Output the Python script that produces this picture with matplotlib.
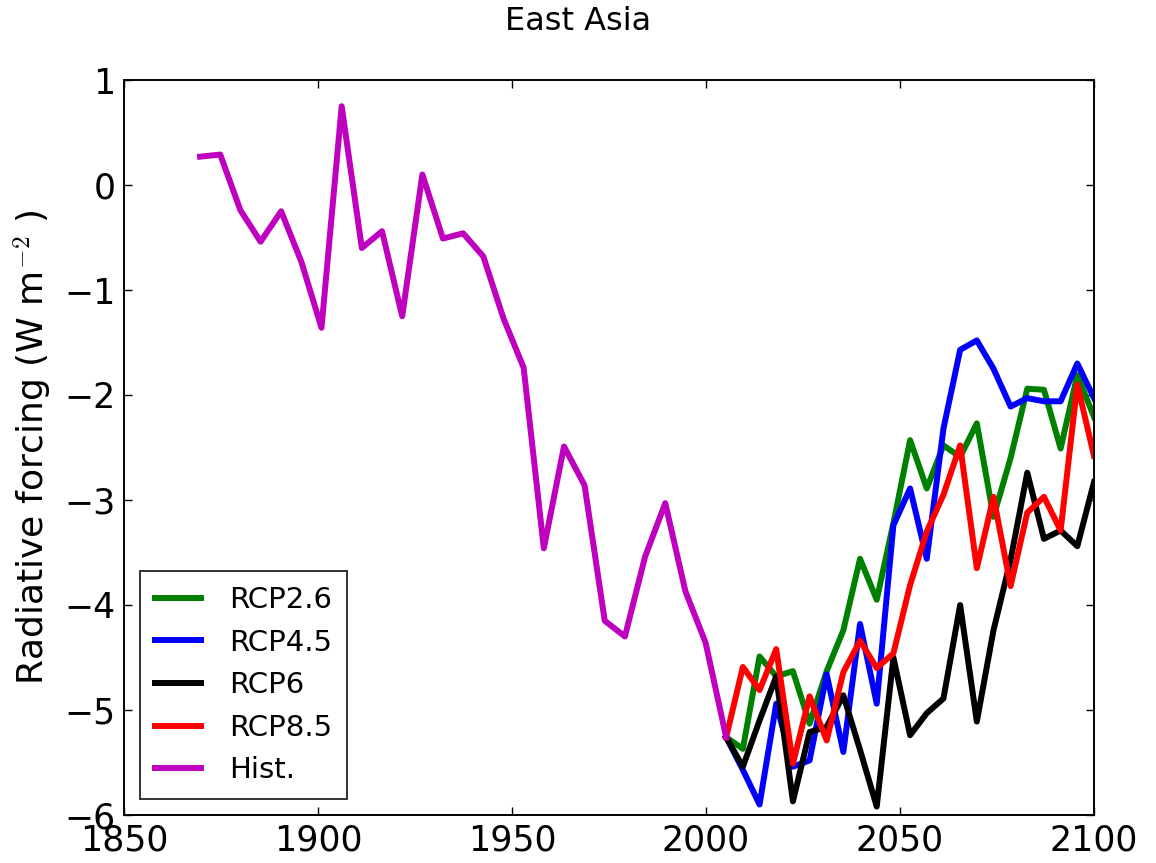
import matplotlib
matplotlib.use('Agg')
import matplotlib.pyplot as plt

plt.rcParams['font.family'] = ['DejaVu Sans']
plt.rcParams['mathtext.fontset'] = 'cm'

# historical forcing
hist_years = [1869.6, 1874.8, 1880.0, 1885.2, 1890.5, 1895.7, 1900.9, 1906.1, 1911.3,
              1916.5, 1921.7, 1926.9, 1932.2, 1937.4, 1942.6, 1947.8, 1953.0, 1958.2,
              1963.4, 1968.7, 1973.9, 1979.1, 1984.3, 1989.5, 1994.7, 1999.9, 2005.2]
hist = [0.27, 0.29, -0.24, -0.54, -0.25, -0.73, -1.36, 0.75, -0.60,
        -0.44, -1.25, 0.10, -0.51, -0.46, -0.68, -1.27, -1.74, -3.46,
        -2.49, -2.86, -4.15, -4.30, -3.54, -3.03, -3.87, -4.36, -5.26]

# scenarios
rcp_years = [2005.2, 2009.5, 2013.8, 2018.1, 2022.4, 2026.7, 2031.1, 2035.4, 2039.7,
             2044.0, 2048.3, 2052.6, 2056.9, 2061.2, 2065.5, 2069.8, 2074.1, 2078.5,
             2082.8, 2087.1, 2091.4, 2095.7, 2100.0]
rcp26 = [-5.26, -5.37, -4.49, -4.68, -4.63, -5.13, -4.63, -4.24, -3.56, -3.95, -3.22,
         -2.43, -2.89, -2.48, -2.59, -2.27, -3.16, -2.60, -1.94, -1.95, -2.51, -1.81, -2.21]
rcp45 = [-5.26, -5.57, -5.90, -4.94, -5.54, -5.48, -4.66, -5.40, -4.18, -4.94, -3.24,
         -2.89, -3.56, -2.32, -1.57, -1.48, -1.75, -2.11, -2.03, -2.06, -2.06, -1.70, -2.03]
rcp6 = [-5.26, -5.54, -5.10, -4.68, -5.87, -5.21, -5.16, -4.86, -5.38, -5.92, -4.50,
        -5.24, -5.03, -4.89, -4.00, -5.11, -4.24, -3.57, -2.74, -3.37, -3.29, -3.44, -2.83]
rcp85 = [-5.26, -4.59, -4.81, -4.42, -5.51, -4.87, -5.29, -4.64, -4.34, -4.60, -4.46,
         -3.81, -3.30, -2.95, -2.48, -3.65, -2.97, -3.82, -3.12, -2.97, -3.29, -1.90, -2.58]

fig = plt.figure(figsize=(11.56, 8.63), dpi=100)
ax = fig.add_axes([124/1156, 1-815/863, 970/1156, 735/863])

lw = 4.3
ax.plot(rcp_years, rcp26, color=(0, 0.5, 0), lw=lw, label='RCP2.6')
ax.plot(rcp_years, rcp45, color=(0, 0, 1), lw=lw, label='RCP4.5')
ax.plot(rcp_years, rcp6, color='k', lw=lw, label='RCP6')
ax.plot(rcp_years, rcp85, color=(1, 0, 0), lw=lw, label='RCP8.5')
ax.plot(hist_years, hist, color=(0.75, 0, 0.75), lw=lw, label='Hist.')

ax.set_xlim(1850, 2100)
ax.set_ylim(-6, 1)
ax.set_xticks([1850, 1900, 1950, 2000, 2050, 2100])
ax.set_yticks(range(-6, 2))
ax.tick_params(direction='in', length=5.8, width=1, labelsize=25, pad=6,
               top=True, right=True)
for s in ax.spines.values():
    s.set_linewidth(1.4)

ax.set_ylabel('Radiative forcing (W m$^{-2}$ )', fontsize=26)
ax.yaxis.set_label_coords(-0.072, 0.5)

leg = ax.legend(loc='lower left', fontsize=21, fancybox=False, handlelength=1.6,
                handletextpad=0.95, labelspacing=0.5, borderaxespad=0.55,
                borderpad=0.5)
leg.get_frame().set_edgecolor('k')
leg.get_frame().set_linewidth(1.4)

fig.text(0.5, 1 - 22/863, 'East Asia', ha='center', va='center', fontsize=23)

fig.savefig('out.png', dpi=100)
